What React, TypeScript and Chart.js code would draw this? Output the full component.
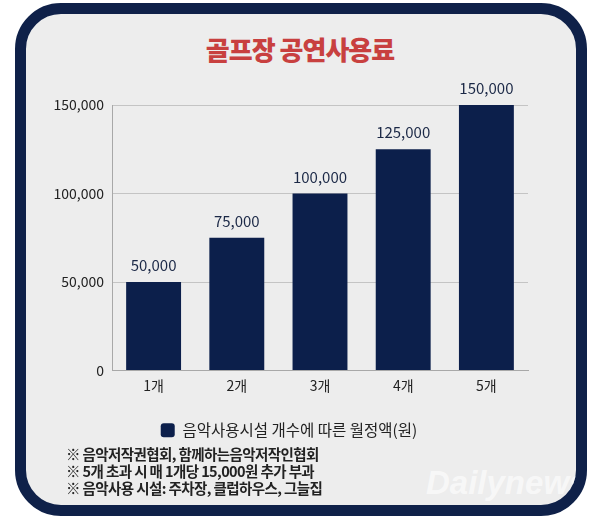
import React, { useEffect, useRef } from 'react';
import { Chart, registerables } from 'chart.js';

Chart.register(...registerables);

const chartTitle = '골프장 공연사용료';
const categories = ['1개', '2개', '3개', '4개', '5개'];
const seriesName = '음악사용시설 개수에 따른 월정액(원)';
const monthlyFees = [50000, 75000, 100000, 125000, 150000];
const yTickValues = [0, 50000, 100000, 150000];
const footnotes = [
  '※ 음악저작권협회, 함께하는음악저작인협회',
  '※ 5개 초과 시 매 1개당 15,000원 추가 부과',
  '※ 음악사용 시설: 주차장, 클럽하우스, 그늘집',
];
const watermark = 'Dailynews';

const NAVY = '#0c1f4b';
const FONT = '"Noto Sans CJK KR", "Noto Sans", sans-serif';

const fmt = (v: number) => v.toLocaleString('en-US');

const valueLabels = {
  id: 'valueLabels',
  afterDatasetsDraw(chart: any) {
    const ctx = chart.ctx;
    const meta = chart.getDatasetMeta(0);
    ctx.save();
    ctx.font = `15px ${FONT}`;
    ctx.fillStyle = '#1b2846';
    ctx.textAlign = 'center';
    ctx.textBaseline = 'bottom';
    meta.data.forEach((bar: any, i: number) => {
      ctx.fillText(fmt(chart.data.datasets[0].data[i]), bar.x, bar.y - 9);
    });
    ctx.restore();
  },
};

const legendShift = {
  id: 'legendShift',
  afterLayout(chart: any) {
    const lg = chart.legend;
    if (!lg) return;
    lg.left += 10;
    lg.right += 10;
    if (lg.adjustHitBoxes) lg.adjustHitBoxes();
  },
};

export default function App() {
  const canvasRef = useRef<HTMLCanvasElement | null>(null);

  useEffect(() => {
    if (!canvasRef.current) return;
    const chart = new Chart(canvasRef.current, {
      type: 'bar',
      data: {
        labels: categories,
        datasets: [
          {
            label: seriesName,
            data: monthlyFees,
            backgroundColor: NAVY,
            borderWidth: 0,
            categoryPercentage: 1,
            barPercentage: 0.66,
          },
        ],
      },
      options: {
        animation: false,
        responsive: false,
        devicePixelRatio: 1,
        layout: { padding: { left: 30, right: 72, top: 105, bottom: 0 } },
        scales: {
          x: {
            grid: { display: false, drawTicks: false },
            border: { display: true, color: '#a8a8a8', width: 1 },
            ticks: { color: '#222', font: { family: FONT, size: 14 }, padding: 7 },
            afterFit: (s: any) => { s.height = 28; },
          },
          y: {
            min: 0,
            max: 150000,
            afterBuildTicks: (s: any) => { s.ticks = yTickValues.map((v) => ({ value: v })); },
            grid: { color: '#c4c4c4', drawTicks: false, lineWidth: 1 },
            border: { display: true, color: '#a8a8a8', width: 1 },
            ticks: {
              color: '#222',
              font: { family: FONT, size: 14 },
              padding: 8,
              callback: (v: any) => fmt(Number(v)),
            },
            afterFit: (s: any) => { s.width = 82; },
          },
        },
        plugins: {
          legend: {
            position: 'bottom',
            labels: {
              color: '#222',
              font: { family: FONT, size: 15.5 },
              boxWidth: 14,
              boxHeight: 14,
              padding: 24,
              useBorderRadius: true,
              borderRadius: 3,
            },
          },
          tooltip: { enabled: false },
        },
      },
      plugins: [valueLabels, legendShift],
    } as any);
    return () => chart.destroy();
  }, []);

  return (
    <div style={{ position: 'absolute', left: 0, top: 0, width: 600, height: 521, background: '#fff', fontFamily: FONT }}>
      <div
        style={{
          position: 'absolute',
          left: 15,
          top: 3,
          width: 572,
          height: 513,
          boxSizing: 'border-box',
          border: `11px solid #0f2149`,
          borderRadius: 46,
          background: '#ededed',
          overflow: 'hidden',
        }}
      >
        <div
          style={{
            position: 'absolute',
            left: 400,
            top: 450,
            fontSize: 33,
            fontWeight: 900,
            fontStyle: 'italic',
            color: 'rgba(255,255,255,0.6)',
            fontFamily: '"Liberation Sans", Arial, sans-serif',
            whiteSpace: 'nowrap',
          }}
        >
          {watermark}
        </div>
      </div>
      <div
        style={{
          position: 'absolute',
          left: 0,
          top: 32,
          width: 600,
          textAlign: 'center',
          fontSize: 26,
          fontWeight: 900,
          color: '#c8403f',
          letterSpacing: -1,
          lineHeight: '34px',
        }}
      >
        {chartTitle}
      </div>
      <canvas
        ref={canvasRef}
        width={600}
        height={448}
        style={{ position: 'absolute', left: 0, top: 0, width: 600, height: 448 }}
      />
      <div
        style={{
          position: 'absolute',
          left: 66,
          top: 445,
          fontSize: 14.5,
          fontWeight: 700,
          color: '#222',
          lineHeight: '17px',
          letterSpacing: -0.6,
          whiteSpace: 'nowrap',
        }}
      >
        {footnotes.map((t, i) => (
          <div key={i}>{t}</div>
        ))}
      </div>
    </div>
  );
}
